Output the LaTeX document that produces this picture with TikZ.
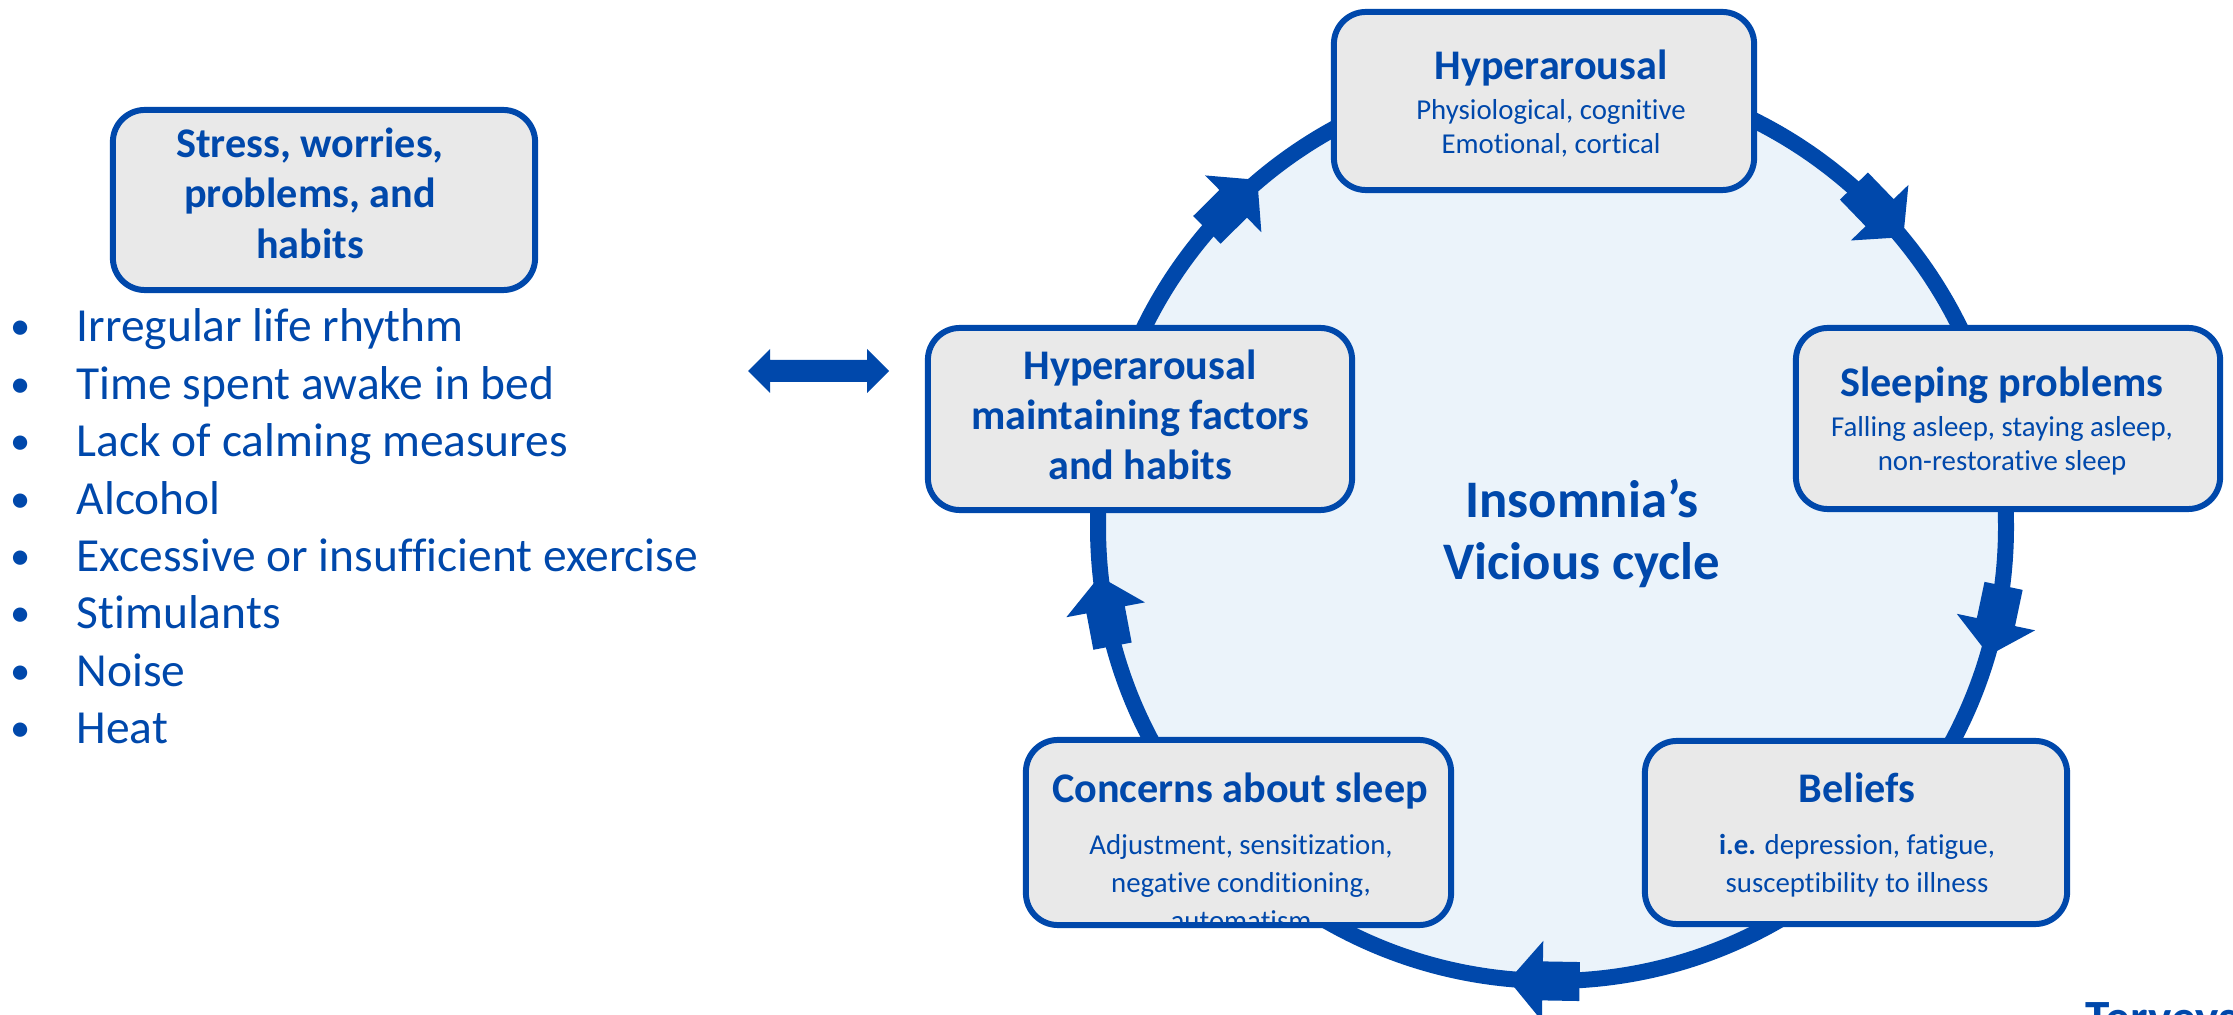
\documentclass[tikz,border=0pt]{standalone}
\usepackage{fontspec}
\setmainfont{Carlito}[Ligatures={NoCommon}]
\usetikzlibrary{calc}
\definecolor{ublue}{RGB}{0,72,171}
\definecolor{boxgray}{RGB}{233,233,233}
\definecolor{circfill}{RGB}{235,243,250}
\begin{document}
\begin{tikzpicture}[x=0.01cm,y=0.01cm,
  box/.style={rectangle, draw=ublue, fill=boxgray, line width=1.7pt, rounded corners=0.32cm, outer sep=0pt, inner sep=0pt},
  ttl/.style={text=ublue, font=\fontsize{12}{14}\selectfont\bfseries, anchor=base, inner sep=0pt},
  subt/.style={text=ublue, font=\fontsize{8.2}{10}\selectfont, anchor=base, inner sep=0pt},
  lst/.style={text=ublue, font=\fontsize{13.5}{16}\selectfont, anchor=base west, inner sep=0pt},
  bul/.style={text=ublue, font=\fontsize{11.5}{16}\selectfont, anchor=base, inner sep=0pt},
  cyc/.style={text=ublue, font=\fontsize{15}{18}\selectfont\bfseries, anchor=base, inner sep=0pt},
  blockarrow/.style={fill=ublue, draw=none}
]
\useasboundingbox (0,0) rectangle (2233,1015);

% cycle circle
\coordinate (C) at (1552,488);
\draw[ublue, line width=4.55pt, fill=circfill] (C) circle[radius=454];

% block arrows on the circle (clockwise)
\foreach \a in {134.8, 44, -11.9, -91, 190.7} {
  \fill[blockarrow, shift={($(C)+(\a:454)$)}, rotate=\a-90]
    (-35.5,19.5) -- (1.5,19.5) -- (1.5,40) -- (35.5,0) -- (1.5,-40) -- (1.5,-19.5) -- (-35.5,-19.5) -- cycle;
}

% double arrow
\fill[blockarrow] (748,644) -- (770,666) -- (770,655) -- (867,655) -- (867,666) -- (889,644)
  -- (867,622) -- (867,633) -- (770,633) -- (770,622) -- cycle;

% boxes
\node[box, minimum width=4.20cm, minimum height=1.78cm] (hyp) at (1544,914) {};
\node[box, minimum width=4.24cm, minimum height=1.81cm] (sleep) at (2008,596.5) {};
\node[box, minimum width=4.22cm, minimum height=1.83cm] (bel) at (1856,182.5) {};
\node[box, minimum width=4.25cm, minimum height=1.85cm] (conc) at (1238.5,182.5) {};
\node[box, minimum width=4.24cm, minimum height=1.82cm] (maint) at (1140,596) {};
\node[box, minimum width=4.22cm, minimum height=1.80cm] (stress) at (324,815) {};

% Hyperarousal
\node[ttl] (hypT) at (1551,935) {Hyperarousal};
\node[subt] (hypS1) at (1551,895) {Physiological, cognitive};
\node[subt] (hypS2) at (1551,861) {Emotional, cortical};

% Sleeping problems
\node[ttl] (sleepT) at (2002,618) {Sleeping problems};
\node[subt] (sleepS1) at (2002,578) {Falling asleep, staying asleep,};
\node[subt] (sleepS2) at (2002,544) {non-restorative sleep};

% Beliefs
\node[ttl] (belT) at (1857,212) {Beliefs};
\node[subt] (belS1) at (1857,160) {\textbf{i.e.} depression, fatigue,};
\node[subt] (belS2) at (1857,122) {susceptibility to illness};

% Concerns about sleep
\node[ttl] (concT) at (1240,212) {Concerns about sleep};
\node[subt] (concS1) at (1241,160) {Adjustment, sensitization,};
\node[subt] (concS2) at (1241,122) {negative conditioning,};
\begin{scope}
  \clip ([yshift=0.03cm]conc.south west) rectangle (conc.north east);
  \node[subt] (concS3) at (1241,84) {automatism};
\end{scope}

% Hyperarousal maintaining factors
\node[ttl] (maintT1) at (1140,635) {Hyperarousal};
\node[ttl] (maintT2) at (1140,585) {maintaining factors};
\node[ttl] (maintT3) at (1140,535) {and habits};

% Stress box
\node[ttl] (stressT1) at (310,857.5) {Stress, worries,};
\node[ttl] (stressT2) at (310,807.5) {problems, and};
\node[ttl] (stressT3) at (310,756) {habits};

% centre text
\node[cyc] (cyc1) at (1582,497) {Insomnia’s};
\node[cyc] (cyc2) at (1582,435.5) {Vicious cycle};

% bullet list
\foreach \t [count=\i from 0] in {Irregular life rhythm, Time spent awake in bed, Lack of calming measures, Alcohol, Excessive or insufficient exercise, Stimulants, Noise, Heat} {
  \node[bul] (b\i) at (21,{675-57.4*\i}) {\textbullet};
  \node[lst] (l\i) at (76,{673-57.4*\i}) {\t};
}

% logo text (cut by the page edge, as in the reference)
\node[text=ublue, font=\fontsize{14}{16}\selectfont\bfseries, anchor=base west, inner sep=0pt] (logo) at (2085,-20) {Terveys};
\end{tikzpicture}
\end{document}
